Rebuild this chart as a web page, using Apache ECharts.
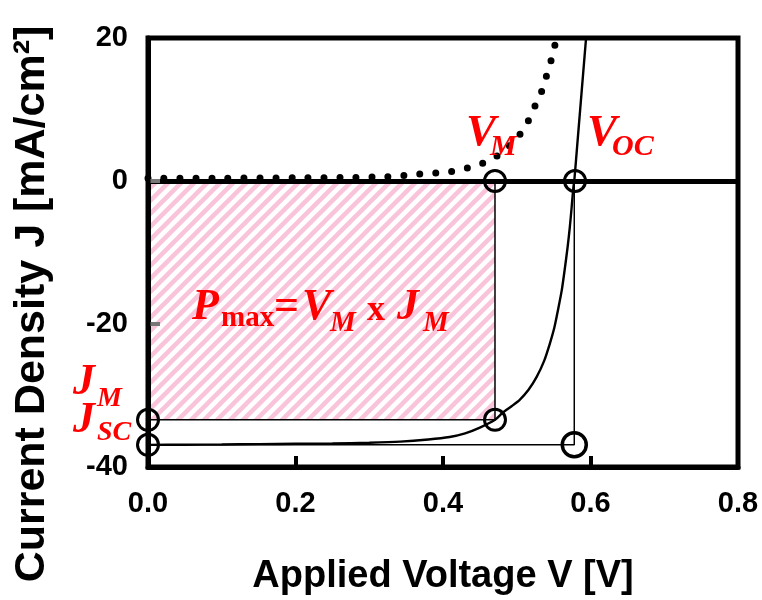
<!DOCTYPE html>
<html>
<head>
<meta charset="utf-8">
<script src="https://cdn.jsdelivr.net/npm/echarts@6/dist/echarts.min.js"></script>
<style>
html,body{margin:0;padding:0;background:#fff;}
#chart{width:762px;height:600px;}
</style>
</head>
<body>
<div id="chart"></div>
<script>
// ---- data ----
const lightVoltage = [0, 0.05, 0.1, 0.15, 0.2, 0.25, 0.3, 0.342, 0.38, 0.409, 0.43, 0.45, 0.4705, 0.481, 0.493, 0.504, 0.516, 0.527, 0.537, 0.545, 0.551, 0.556, 0.561, 0.565, 0.569, 0.572, 0.5745, 0.5767, 0.578, 0.582, 0.586, 0.590, 0.594, 0.598];
const lightCurrent = [-36.9, -36.88, -36.85, -36.8, -36.75, -36.7, -36.6, -36.45, -36.15, -35.8, -35.3, -34.5, -33.4, -32.4, -31.5, -30.6, -29.2, -27.4, -25.2, -22.7, -20.5, -18.0, -15.3, -12.4, -9.2, -6.4, -3.6, -1.0, 0, 5, 10, 15, 20, 25];
const darkVoltage = [0, 0.1, 0.2, 0.28, 0.3227, 0.3458, 0.3661, 0.3892, 0.4095, 0.4325, 0.4542, 0.4746, 0.4976, 0.5125, 0.5234, 0.5329, 0.5397, 0.5464, 0.5505, 0.554];
const darkCurrent = [0.4, 0.4, 0.45, 0.5, 0.6, 0.75, 0.95, 1.1, 1.3, 1.8, 2.5, 3.6, 5.7, 7.8, 10.2, 12.3, 14.5, 16.8, 18.6, 19.6];
const Vm = 0.4705, Jm = -33.4, Voc = 0.579, Jsc = -36.9, VocJsc = 0.578;
const xRange = [0, 0.8], xStep = 0.2;
const yRange = [-40, 20], yStep = 20;

const zip = (a, b) => a.map((v, i) => [v, b[i]]);

// hatch pattern
const tile = document.createElement('canvas');
const s = 13;
tile.width = s; tile.height = s;
const c = tile.getContext('2d');
c.strokeStyle = '#f9c3da';
c.lineWidth = 4.5;
[[-s, s, s, -s], [0, 2 * s, 2 * s, 0], [0, s, s, 0]].forEach(l => {
  c.beginPath(); c.moveTo(l[0], l[1]); c.lineTo(l[2], l[3]); c.stroke();
});

const RED = '#ff0000';
function txt(text, x, y, size, italic) {
  return {
    type: 'text', x: x, y: y, z: 100,
    style: {
      text: text, fill: RED,
      font: (italic ? 'italic ' : '') + 'bold ' + size + 'px "Liberation Serif", serif',
      textAlign: 'left', textVerticalAlign: 'middle', verticalAlign: 'middle'
    }
  };
}

const chart = echarts.init(document.getElementById('chart'), null, {renderer: 'canvas'});
chart.setOption({
  animation: false,
  backgroundColor: '#fff',
  grid: {left: 148, right: 24, top: 38, bottom: 133, show: true, borderColor: '#000', borderWidth: 5, z: 12},
  xAxis: {
    type: 'value', min: xRange[0], max: xRange[1], interval: xStep, z: 10,
    axisLine: {onZero: false, lineStyle: {color: '#000', width: 5}},
    axisTick: {inside: true, length: 11, lineStyle: {color: '#000', width: 4}},
    splitLine: {show: false},
    axisLabel: {margin: 22, color: '#000', fontWeight: 'bold', fontSize: 29, fontFamily: '"Liberation Sans", Arial, sans-serif',
      formatter: v => v.toFixed(1)}
  },
  yAxis: {
    type: 'value', min: yRange[0], max: yRange[1], interval: yStep, z: 10,
    axisLine: {onZero: false, lineStyle: {color: '#000', width: 5}},
    axisTick: {inside: true, length: 12, lineStyle: {color: '#777', width: 4}},
    splitLine: {show: false},
    axisLabel: {margin: 20, color: '#000', fontWeight: 'bold', fontSize: 29, fontFamily: '"Liberation Sans", Arial, sans-serif'}
  },
  series: [
    {
      type: 'line', name: 'Pmax area', data: [], z: 1, silent: true,
      markArea: {
        silent: true,
        itemStyle: {color: {image: tile, repeat: 'repeat'}, borderColor: '#000', borderWidth: 1.5},
        data: [[{coord: [0, 0]}, {coord: [Vm, Jm]}]]
      }
    },
    {
      type: 'line', name: 'dark', data: zip(darkVoltage, darkCurrent), z: 2,
      smooth: 0.3, showSymbol: false, symbol: 'none',
      lineStyle: {color: '#000', width: 7, type: [0, 16], cap: 'round'}
    },
    {
      type: 'line', name: 'guides', data: [[0, Jsc], [VocJsc, Jsc], [VocJsc, 0]], z: 3,
      showSymbol: false, symbol: 'none',
      lineStyle: {color: '#000', width: 1.5},
      markLine: {
        silent: true, symbol: ['none', 'none'], label: {show: false},
        lineStyle: {color: '#000', width: 5, type: 'solid'},
        data: [{yAxis: 0}]
      }
    },
    {
      type: 'line', name: 'light', data: zip(lightVoltage, lightCurrent), z: 4,
      smooth: 0.25, showSymbol: false, symbol: 'none',
      lineStyle: {color: '#000', width: 2.4}
    },
    {
      type: 'scatter', name: 'points', z: 20, symbol: 'circle', symbolSize: 21,
      itemStyle: {color: 'rgba(0,0,0,0)', borderColor: '#000', borderWidth: 3, opacity: 1},
      data: [[Vm, 0], [Voc, 0], [Vm, Jm], [0, Jm], [0, Jsc]]
    },
    {
      type: 'scatter', name: 'jsc point', z: 20, symbol: 'circle', symbolSize: 24,
      itemStyle: {color: 'rgba(0,0,0,0)', borderColor: '#000', borderWidth: 3.5, opacity: 1},
      data: [[VocJsc, Jsc]]
    }
  ],
  graphic: [
    {
      type: 'text', x: 443, y: 577, z: 100,
      style: {text: 'Applied Voltage V [V]', textAlign: 'center', textVerticalAlign: 'middle', verticalAlign: 'middle',
        fill: '#000', font: 'bold 38px "Liberation Sans", Arial, sans-serif'}
    },
    {
      type: 'text', x: 32, y: 304, rotation: Math.PI / 2, z: 100,
      style: {text: 'Current Density J [mA/cm²]', textAlign: 'center', textVerticalAlign: 'middle', verticalAlign: 'middle',
        fill: '#000', font: 'bold 43px "Liberation Sans", Arial, sans-serif'}
    },
    txt('V', 466, 133, 45, true),
    txt('M', 490, 147, 30, true),
    txt('V', 587, 133, 45, true),
    txt('OC', 612, 147, 30, true),
    txt('J', 73, 383, 44, true),
    txt('M', 97, 399, 28, true),
    txt('J', 73, 421, 44, true),
    txt('SC', 97, 433, 28, true),
    txt('P', 192, 308, 44, true),
    txt('max', 221, 319, 29, false),
    txt('=', 274, 308, 44, false),
    txt('V', 302, 308, 44, true),
    txt('M', 330, 324, 29, true),
    txt('x', 367, 311, 36, false),
    txt('J', 397, 308, 44, true),
    txt('M', 423, 324, 29, true)
  ]
});
</script>
</body>
</html>
